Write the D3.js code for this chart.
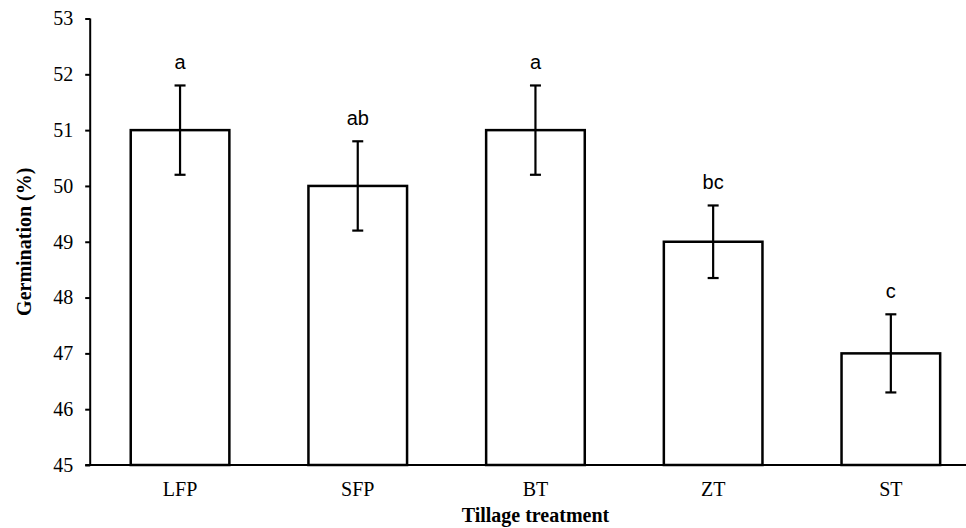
<!DOCTYPE html>
<html>
<head>
<meta charset="utf-8">
<script src="https://cdn.jsdelivr.net/npm/d3@7"></script>
<style>
  html, body { margin: 0; padding: 0; background: #fff; }
  svg { display: block; }
  .serif { font-family: "Liberation Serif", "Times New Roman", serif; }
</style>
</head>
<body>
<svg id="chart" width="966" height="528"></svg>
<script>
const categories = ["LFP", "SFP", "BT", "ZT", "ST"];
const germination = [51, 50, 51, 49, 47];
const errors = [0.8, 0.8, 0.8, 0.65, 0.7];
const letters = ["a", "ab", "a", "bc", "c"];
const yTicks = [45, 46, 47, 48, 49, 50, 51, 52, 53];

const svg = d3.select("#chart");
const x0 = 91.2, x1 = 979.7, yTop = 18.5, yBot = 465;
const SERIF = "'Liberation Serif', 'Times New Roman', serif";

const x = d3.scaleBand().domain(categories).range([x0, x1])
  .paddingInner(0.445).paddingOuter(0.2225);
const y = d3.scaleLinear().domain([45, 53]).range([yBot, yTop]);

const data = categories.map((c, i) => ({c, v: germination[i], e: errors[i], l: letters[i]}));

// bars
svg.append("g").selectAll("rect").data(data).join("rect")
  .attr("x", d => x(d.c))
  .attr("y", d => y(d.v))
  .attr("width", x.bandwidth())
  .attr("height", d => y(45) - y(d.v))
  .attr("fill", "#fff")
  .attr("stroke", "#000")
  .attr("stroke-width", 2.5);

// y axis
const yAxis = d3.axisLeft(y).tickValues(yTicks).tickSize(5).tickPadding(12).tickFormat(d3.format("d"));
const gy = svg.append("g").attr("transform", `translate(${x0 - 1},0)`).call(yAxis)
  .attr("font-family", null).attr("font-size", null).attr("class", "serif");
gy.select(".domain").attr("stroke", "#000").attr("stroke-width", 2).attr("d", `M0,${yTop}V${yBot}`);
gy.selectAll(".tick line").attr("stroke", "#000").attr("stroke-width", 2);
gy.selectAll(".tick text").style("font-family", SERIF).style("font-size", "20px").attr("fill", "#000");

// x axis
const xAxis = d3.axisBottom(x).tickSize(0).tickPadding(17);
const gx = svg.append("g").attr("transform", `translate(0,${yBot})`).call(xAxis)
  .attr("font-family", null).attr("font-size", null).attr("class", "serif");
gx.select(".domain").attr("stroke", "#000").attr("stroke-width", 2).attr("d", `M${x0 - 6},0H${x1}`);
gx.selectAll(".tick text").style("font-family", SERIF).style("font-size", "20px").attr("fill", "#000");

// error bars
const eb = svg.append("g").attr("stroke", "#000").attr("stroke-width", 2.2);
const cx = d => x(d.c) + x.bandwidth() / 2;
eb.selectAll("line.stem").data(data).join("line").attr("class", "stem")
  .attr("x1", cx).attr("x2", cx)
  .attr("y1", d => y(d.v + d.e)).attr("y2", d => y(d.v - d.e));
eb.selectAll("line.capt").data(data).join("line").attr("class", "capt")
  .attr("x1", d => cx(d) - 5.5).attr("x2", d => cx(d) + 5.5)
  .attr("y1", d => y(d.v + d.e)).attr("y2", d => y(d.v + d.e));
eb.selectAll("line.capb").data(data).join("line").attr("class", "capb")
  .attr("x1", d => cx(d) - 5.5).attr("x2", d => cx(d) + 5.5)
  .attr("y1", d => y(d.v - d.e)).attr("y2", d => y(d.v - d.e));

// letters
svg.append("g").selectAll("text").data(data).join("text")
  .attr("x", cx)
  .attr("y", d => y(d.v + d.e) - 16)
  .attr("text-anchor", "middle")
  .style("font-family", "'Liberation Sans', Arial, sans-serif")
  .style("font-size", "20px")
  .attr("fill", "#000")
  .text(d => d.l);

// axis titles
svg.append("text")
  .attr("x", x("BT") + x.bandwidth() / 2)
  .attr("y", 522)
  .attr("text-anchor", "middle")
  .style("font-family", SERIF)
  .style("font-weight", "bold")
  .style("font-size", "20px")
  .text("Tillage treatment");

svg.append("text")
  .attr("transform", `translate(31,${(yTop + yBot) / 2}) rotate(-90)`)
  .attr("text-anchor", "middle")
  .style("font-family", SERIF)
  .style("font-weight", "bold")
  .style("font-size", "20px")
  .text("Germination (%)");
</script>
</body>
</html>
